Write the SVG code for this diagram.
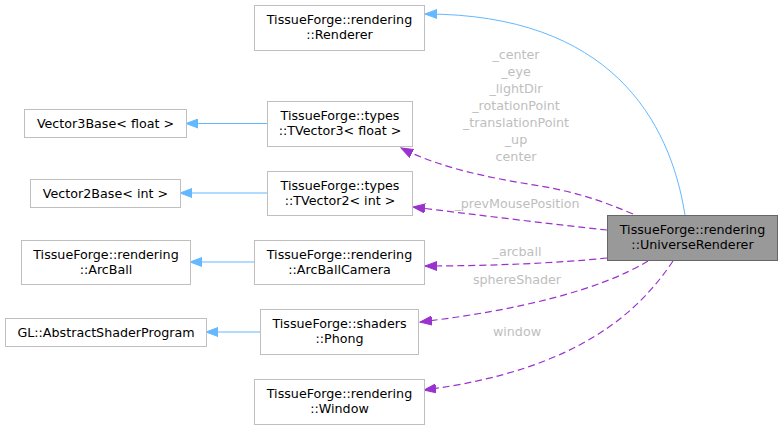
<svg xmlns="http://www.w3.org/2000/svg" width="782" height="429" viewBox="0 0 782 429">
<style>
.n rect{fill:#ffffff;stroke:#bfbfbf;stroke-width:1}
.n text,.hl text{font-family:"DejaVu Sans",sans-serif;font-size:12.7px;fill:#000;text-anchor:middle}
.hl rect{fill:#999999;stroke:#666666;stroke-width:1}
.lbl{font-family:"DejaVu Sans",sans-serif;font-size:12.7px;fill:#bebebe;text-anchor:middle}
.inh{fill:none;stroke:#63b8ff;stroke-width:1;marker-end:url(#ab)}
.use{fill:none;stroke:#9a32cd;stroke-width:1.2;stroke-dasharray:7,4;marker-end:url(#ap)}
</style>
<defs>
<marker id="ab" markerWidth="13" markerHeight="10" refX="12" refY="5" orient="auto" markerUnits="userSpaceOnUse"><path d="M0,0.5 L12,5 L0,9.5 z" fill="#63b8ff" stroke="#63b8ff"/></marker>
<marker id="ap" markerWidth="13" markerHeight="10" refX="12" refY="5" orient="auto" markerUnits="userSpaceOnUse"><path d="M0,0.5 L12,5 L0,9.5 z" fill="#9a32cd" stroke="#9a32cd"/></marker>
</defs>
<g id="edges">
<path class="inh" d="M685,215 C670,120 610,14 425,14"/>
<path class="inh" d="M267,123.5 L186,123.5"/>
<path class="inh" d="M267,193 L180,193"/>
<path class="inh" d="M254,262 L190,262"/>
<path class="inh" d="M260,332 L206,332"/>
<path class="use" d="M633,214 C600,200 575,192 540,186 C490,178 440,168 401,148"/>
<path class="use" d="M607,230 C550,224 470,214 413,207"/>
<path class="use" d="M607,258 C560,263 490,266 425,266"/>
<path class="use" d="M648,261 C600,290 520,310 420,322"/>
<path class="use" d="M673,261 C640,310 580,370 424,390"/>
<text class="lbl" x="516" y="59">_center</text>
<text class="lbl" x="516" y="76">_eye</text>
<text class="lbl" x="516" y="93">_lightDir</text>
<text class="lbl" x="516" y="110">_rotationPoint</text>
<text class="lbl" x="516" y="127">_translationPoint</text>
<text class="lbl" x="516" y="144">_up</text>
<text class="lbl" x="516" y="161">center</text>
<text class="lbl" x="517" y="208">_prevMousePosition</text>
<text class="lbl" x="517" y="256">_arcball</text>
<text class="lbl" x="517" y="284">sphereShader</text>
<text class="lbl" x="517" y="336">window</text>
</g>
<g id="UniverseRenderer" class="hl"><rect x="607.5" y="215.5" width="170" height="45"/><text x="692.5" y="234">TissueForge::rendering</text><text x="692.5" y="249">::UniverseRenderer</text></g>
<g id="Renderer" class="n"><rect x="254.5" y="5.5" width="170" height="45"/><text x="339.5" y="24">TissueForge::rendering</text><text x="339.5" y="39">::Renderer</text></g>
<g id="Vector3Base" class="n"><rect x="24.5" y="109.5" width="162" height="28"/><text x="105.5" y="128">Vector3Base&lt; float &gt;</text></g>
<g id="TVector3" class="n"><rect x="267.5" y="101.5" width="145" height="45"/><text x="340" y="120">TissueForge::types</text><text x="340" y="135">::TVector3&lt; float &gt;</text></g>
<g id="Vector2Base" class="n"><rect x="30.5" y="179.5" width="150" height="28"/><text x="105.5" y="198">Vector2Base&lt; int &gt;</text></g>
<g id="TVector2" class="n"><rect x="267.5" y="171.5" width="145" height="44"/><text x="340" y="190">TissueForge::types</text><text x="340" y="205">::TVector2&lt; int &gt;</text></g>
<g id="ArcBall" class="n"><rect x="21.5" y="240.5" width="169" height="44"/><text x="106" y="259">TissueForge::rendering</text><text x="106" y="274">::ArcBall</text></g>
<g id="ArcBallCamera" class="n"><rect x="254.5" y="240.5" width="170" height="44"/><text x="339.5" y="259">TissueForge::rendering</text><text x="339.5" y="274">::ArcBallCamera</text></g>
<g id="AbstractShaderProgram" class="n"><rect x="5.5" y="318.5" width="201" height="28"/><text x="106" y="337">GL::AbstractShaderProgram</text></g>
<g id="Phong" class="n"><rect x="260.5" y="309.5" width="158" height="45"/><text x="339.5" y="328">TissueForge::shaders</text><text x="339.5" y="343">::Phong</text></g>
<g id="Window" class="n"><rect x="254.5" y="379.5" width="170" height="45"/><text x="339.5" y="398">TissueForge::rendering</text><text x="339.5" y="413">::Window</text></g>
</svg>
